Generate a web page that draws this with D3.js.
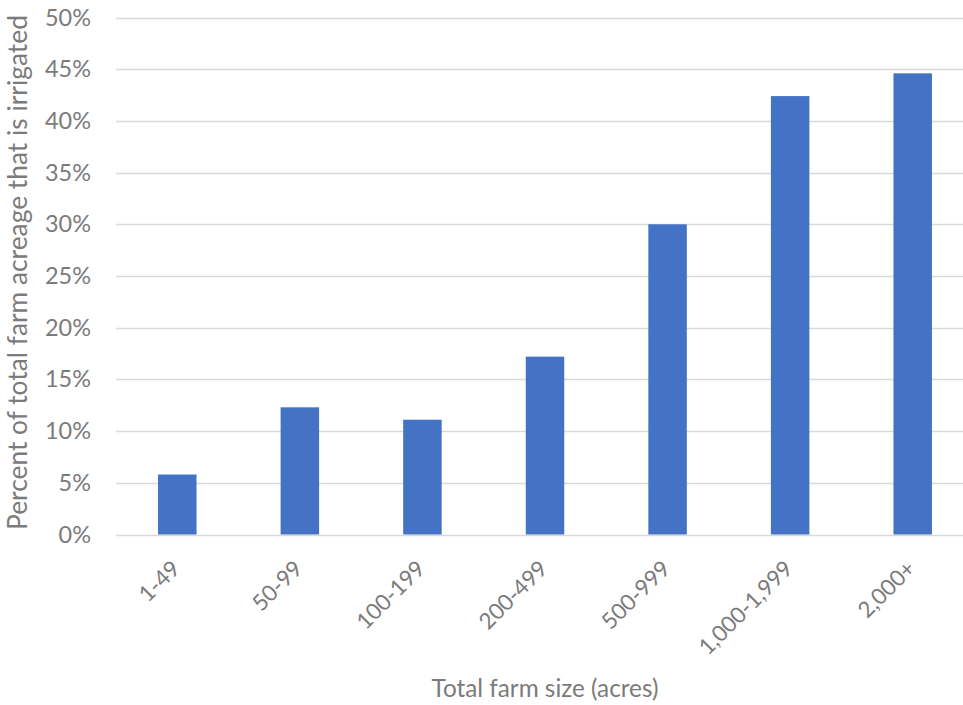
<!DOCTYPE html>
<html>
<head>
<meta charset="utf-8">
<script src="https://cdn.jsdelivr.net/npm/d3@7"></script>
<style>
  html, body { margin: 0; padding: 0; background: #fff; }
  svg { display: block; }
  text { font-family: Lato, "Open Sans", sans-serif; fill: #7b7b7b; }
</style>
</head>
<body>
<svg id="chart" width="963" height="705"></svg>
<script>
const categories = ["1-49", "50-99", "100-199", "200-499", "500-999", "1,000-1,999", "2,000+"];
const values = [5.8, 12.3, 11.1, 17.2, 30.0, 42.4, 44.6];
const yTicks = [0, 5, 10, 15, 20, 25, 30, 35, 40, 45, 50];
const xTitle = "Total farm size (acres)";
const yTitle = "Percent of total farm acreage that is irrigated";

const svg = d3.select("#chart");
const plotLeft = 116, plotRight = 974, plotTop = 17.5, plotBottom = 534.5;

const x = d3.scaleBand().domain(categories).range([plotLeft, plotRight])
  .paddingInner(0.686).paddingOuter(0.343);
const y = d3.scaleLinear().domain([0, 50]).range([plotBottom, plotTop]);

function fit(sel, target) {
  const base = 20;
  sel.style("font-size", base + "px");
  const len = sel.node().getComputedTextLength();
  sel.style("font-size", (base * target / len) + "px");
}

// gridlines
svg.append("g").selectAll("line").data(yTicks).join("line")
  .attr("x1", plotLeft).attr("x2", 963)
  .attr("y1", d => Math.round(y(d)) + 0.5).attr("y2", d => Math.round(y(d)) + 0.5)
  .attr("stroke", "#d9d9d9").attr("stroke-width", 1.3);

// bars
svg.append("g").selectAll("rect").data(values).join("rect")
  .attr("x", (d, i) => x(categories[i]))
  .attr("width", x.bandwidth())
  .attr("y", d => y(d))
  .attr("height", d => y(0) - y(d))
  .attr("fill", "#4472c4");

// y axis labels via d3 axis
const yAxis = d3.axisLeft(y).tickValues(yTicks).tickFormat(d => d + "%").tickSize(0).tickPadding(0);
const gy = svg.append("g").attr("transform", "translate(91,0)").call(yAxis);
gy.select(".domain").remove();
gy.selectAll("text").style("font-family", "Lato, 'Open Sans', sans-serif").attr("fill", "#7b7b7b");
const ref50 = gy.selectAll("text").filter(d => d === 50);
fit(ref50, 46);
const ySize = ref50.style("font-size");
gy.selectAll("text").style("font-size", ySize);

// x axis labels
const xAxis = d3.axisBottom(x).tickSize(0).tickPadding(0);
const gx = svg.append("g").call(xAxis);
gx.select(".domain").remove();
gx.selectAll(".tick").attr("transform", d => `translate(${x(d) + x.bandwidth() / 2 + 4},570)`);
gx.selectAll("text")
  .attr("y", 0).attr("dy", 0).attr("x", 0)
  .attr("text-anchor", "end")
  .attr("transform", "rotate(-45)")
  .attr("fill", "#7b7b7b")
  .style("font-family", "Lato, 'Open Sans', sans-serif");
const refX = gx.selectAll("text").filter(d => d === "1,000-1,999");
fit(refX, 122);
gx.selectAll("text").style("font-size", refX.style("font-size"));

// x title
const xt = svg.append("text").attr("x", 545).attr("y", 697)
  .attr("text-anchor", "middle").text(xTitle);
fit(xt, 227);

// y title
const yt = svg.append("text").attr("transform", "translate(27,272.5) rotate(-90)")
  .attr("text-anchor", "middle").text(yTitle);
fit(yt, 515);
</script>
</body>
</html>
